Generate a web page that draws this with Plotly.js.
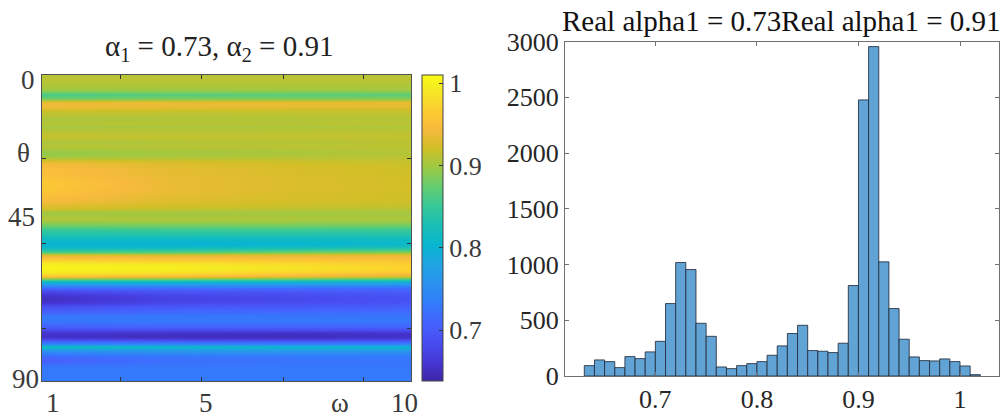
<!DOCTYPE html>
<html>
<head>
<meta charset="utf-8">
<script src="https://cdn.plot.ly/plotly-3.0.1.min.js"></script>
</head>
<body style="margin:0">
<div id="chart"></div>
<script>
// Incidence angle theta (deg), one row per degree
const theta = [
  0, 1, 2, 3, 4, 5, 6, 7, 8, 9,
  10, 11, 12, 13, 14, 15, 16, 17, 18, 19,
  20, 21, 22, 23, 24, 25, 26, 27, 28, 29,
  30, 31, 32, 33, 34, 35, 36, 37, 38, 39,
  40, 41, 42, 43, 44, 45, 46, 47, 48, 49,
  50, 51, 52, 53, 54, 55, 56, 57, 58, 59,
  60, 61, 62, 63, 64, 65, 66, 67, 68, 69,
  70, 71, 72, 73, 74, 75, 76, 77, 78, 79,
  80, 81, 82, 83, 84, 85, 86, 87, 88, 89,
  90
];

// Frequency columns omega
const omega = [1, 4, 7, 10];

// Estimated alpha along theta, one array per omega column
const alpha_w1 = [
  0.910, 0.912, 0.908, 0.906, 0.900, 0.880, 0.858, 0.885, 0.935, 0.942,
  0.928, 0.915, 0.910, 0.903, 0.910, 0.902, 0.906, 0.912, 0.916, 0.909,
  0.904, 0.910, 0.899, 0.893, 0.900, 0.922, 0.940, 0.947, 0.952, 0.951,
  0.956, 0.958, 0.961, 0.960, 0.958, 0.955, 0.950, 0.944, 0.935, 0.926,
  0.906, 0.899, 0.908, 0.900, 0.880, 0.862, 0.842, 0.832, 0.818, 0.806,
  0.800, 0.818, 0.860, 0.930, 0.962, 0.985, 1.000, 1.002, 0.995, 0.960,
  0.880, 0.800, 0.740, 0.700, 0.668, 0.655, 0.650, 0.660, 0.685, 0.700,
  0.712, 0.728, 0.730, 0.720, 0.702, 0.680, 0.656, 0.655, 0.690, 0.750,
  0.820, 0.762, 0.730, 0.712, 0.705, 0.718, 0.728, 0.730, 0.730, 0.731,
  0.732
];
const alpha_w4 = [
  0.910, 0.911, 0.909, 0.905, 0.900, 0.884, 0.866, 0.890, 0.934, 0.938,
  0.924, 0.914, 0.910, 0.905, 0.911, 0.904, 0.907, 0.912, 0.915, 0.910,
  0.906, 0.911, 0.903, 0.900, 0.906, 0.918, 0.928, 0.932, 0.935, 0.934,
  0.936, 0.937, 0.938, 0.937, 0.936, 0.934, 0.932, 0.930, 0.925, 0.918,
  0.905, 0.900, 0.906, 0.900, 0.882, 0.864, 0.845, 0.832, 0.816, 0.802,
  0.800, 0.822, 0.866, 0.928, 0.958, 0.980, 0.996, 0.998, 0.988, 0.952,
  0.878, 0.800, 0.745, 0.708, 0.685, 0.675, 0.673, 0.680, 0.695, 0.708,
  0.718, 0.728, 0.730, 0.722, 0.705, 0.682, 0.655, 0.650, 0.685, 0.748,
  0.812, 0.768, 0.740, 0.725, 0.720, 0.724, 0.729, 0.730, 0.730, 0.731,
  0.732
];
const alpha_w7 = [
  0.910, 0.911, 0.909, 0.906, 0.900, 0.884, 0.868, 0.892, 0.934, 0.936,
  0.922, 0.914, 0.911, 0.906, 0.911, 0.905, 0.908, 0.912, 0.915, 0.911,
  0.908, 0.912, 0.906, 0.904, 0.909, 0.916, 0.922, 0.925, 0.926, 0.926,
  0.927, 0.928, 0.928, 0.928, 0.927, 0.926, 0.925, 0.924, 0.920, 0.914,
  0.904, 0.900, 0.905, 0.899, 0.882, 0.864, 0.846, 0.833, 0.817, 0.806,
  0.806, 0.830, 0.878, 0.932, 0.955, 0.972, 0.985, 0.986, 0.975, 0.940,
  0.870, 0.795, 0.742, 0.708, 0.690, 0.682, 0.680, 0.686, 0.698, 0.710,
  0.719, 0.727, 0.729, 0.722, 0.706, 0.682, 0.652, 0.648, 0.683, 0.745,
  0.806, 0.770, 0.742, 0.728, 0.724, 0.726, 0.729, 0.730, 0.730, 0.731,
  0.732
];
const alpha_w10 = [
  0.910, 0.911, 0.909, 0.906, 0.901, 0.885, 0.870, 0.893, 0.933, 0.935,
  0.921, 0.914, 0.912, 0.908, 0.912, 0.907, 0.909, 0.913, 0.915, 0.912,
  0.910, 0.913, 0.909, 0.908, 0.911, 0.915, 0.918, 0.920, 0.921, 0.921,
  0.922, 0.922, 0.923, 0.922, 0.922, 0.921, 0.921, 0.920, 0.917, 0.912,
  0.904, 0.900, 0.904, 0.898, 0.880, 0.862, 0.846, 0.834, 0.819, 0.810,
  0.812, 0.838, 0.888, 0.935, 0.952, 0.962, 0.970, 0.972, 0.962, 0.925,
  0.860, 0.790, 0.738, 0.710, 0.698, 0.692, 0.690, 0.694, 0.702, 0.712,
  0.720, 0.726, 0.728, 0.722, 0.707, 0.684, 0.658, 0.655, 0.686, 0.745,
  0.802, 0.770, 0.742, 0.730, 0.726, 0.727, 0.729, 0.730, 0.730, 0.731,
  0.732
];

// Histogram of estimated alpha: bin centres (width 0.01) and counts
const binCenters = [
  0.635, 0.645, 0.655, 0.665, 0.675, 0.685, 0.695, 0.705, 0.715, 0.725,
  0.735, 0.745, 0.755, 0.765, 0.775, 0.785, 0.795, 0.805, 0.815, 0.825,
  0.835, 0.845, 0.855, 0.865, 0.875, 0.885, 0.895, 0.905, 0.915, 0.925,
  0.935, 0.945, 0.955, 0.965, 0.975, 0.985, 0.995, 1.005, 1.015
];
const binCounts = [
  93, 144, 129, 75, 174, 156, 216, 311, 650, 1018,
  955, 473, 356, 81, 66, 93, 111, 129, 186, 270,
  381, 455, 228, 222, 210, 294, 812, 2477, 2955, 1024,
  605, 330, 171, 138, 135, 153, 129, 90, 12
];

// Tick labels
const colorbarTicks = [0.7, 0.8, 0.9, 1];
const colorbarTickText = ['0.7', '0.8', '0.9', '1'];
const histXTicks = [0.7, 0.8, 0.9, 1];
const histYTicks = [0, 500, 1000, 1500, 2000, 2500, 3000];
const thetaLabels = ['0', 'θ', '45', '90'];
const omegaLabels = ['1', '5', 'ω', '10'];

// MATLAB parula colour map
const parula = [
  [0.000, 'rgb(62,38,168)'],
  [0.063, 'rgb(69,55,213)'],
  [0.127, 'rgb(72,77,240)'],
  [0.190, 'rgb(69,99,253)'],
  [0.254, 'rgb(50,124,252)'],
  [0.317, 'rgb(43,145,239)'],
  [0.381, 'rgb(32,165,227)'],
  [0.444, 'rgb(8,181,208)'],
  [0.508, 'rgb(25,191,182)'],
  [0.571, 'rgb(55,200,151)'],
  [0.635, 'rgb(100,205,111)'],
  [0.698, 'rgb(157,201,67)'],
  [0.762, 'rgb(209,191,39)'],
  [0.825, 'rgb(248,186,61)'],
  [0.889, 'rgb(252,207,48)'],
  [0.952, 'rgb(245,233,36)'],
  [1.000, 'rgb(249,251,21)']
];

const z = theta.map((t, i) => [alpha_w1[i], alpha_w4[i], alpha_w7[i], alpha_w10[i]]);

const SERIF = 'Liberation Serif';
const W = 1005, H = 417;
const px = v => v / W;
const py = v => 1 - v / H;

function serifFont(size, color) {
  return { family: SERIF, size: size, color: color };
}

const heat = {
  type: 'heatmap',
  x: omega,
  y: theta,
  z: z,
  zsmooth: 'best',
  colorscale: parula,
  zmin: 0.638,
  zmax: 1.01,
  xaxis: 'x',
  yaxis: 'y',
  hoverinfo: 'skip',
  colorbar: {
    x: px(421.5), xanchor: 'left', xpad: 0,
    y: py(381), yanchor: 'bottom', ypad: 0,
    len: 306 / H, lenmode: 'fraction',
    thickness: 21, thicknessmode: 'pixels',
    outlinewidth: 1, outlinecolor: '#444',
    ticks: 'inside', ticklen: 4, tickcolor: '#333',
    tickvals: colorbarTicks, ticktext: colorbarTickText,
    tickfont: serifFont(26, '#3a3a3a')
  }
};

const hist = {
  type: 'bar',
  x: binCenters,
  y: binCounts,
  width: 0.01,
  xaxis: 'x2',
  yaxis: 'y2',
  marker: {
    color: 'rgb(98,163,214)',
    line: { color: 'rgba(35,45,60,0.85)', width: 1 }
  },
  hoverinfo: 'skip'
};

const axisFrame = {
  showline: true, mirror: 'ticks', ticks: 'inside', ticklen: 4,
  showgrid: false, zeroline: false, fixedrange: true
};

const annotations = [
  { text: 'α<sub>1</sub> = 0.73, α<sub>2</sub> = 0.91', xref: 'paper', yref: 'paper',
    x: px(219), y: py(48), xanchor: 'center', yanchor: 'middle', showarrow: false,
    font: serifFont(29, '#222') },
  { text: 'Real alpha1 = 0.73Real alpha1 = 0.91', xref: 'paper', yref: 'paper',
    x: px(781), y: py(21), xanchor: 'center', yanchor: 'middle', showarrow: false,
    font: serifFont(29, '#111') }
];

// theta labels on the left edge of the map
const thetaLabelY = [1.5, 23, 41.8, 89.4];
const thetaLabelX = [27.5, 23.5, 21, 25];
thetaLabels.forEach((t, i) => annotations.push({
  text: t, xref: 'paper', yref: 'y', x: px(thetaLabelX[i]), y: thetaLabelY[i],
  xanchor: 'center', yanchor: 'middle', showarrow: false,
  font: serifFont(27, '#3a3a3a')
}));
// omega labels under the map
const omegaLabelX = [1.26, 5.0, 8.27, 9.83];
omegaLabels.forEach((t, i) => annotations.push({
  text: t, xref: 'x', yref: 'paper', x: omegaLabelX[i], y: py(403),
  xanchor: 'center', yanchor: 'middle', showarrow: false,
  font: serifFont(27, '#3a3a3a')
}));

const layout = {
  width: W, height: H,
  margin: { l: 0, r: 0, t: 0, b: 0 },
  paper_bgcolor: '#fff',
  plot_bgcolor: '#fff',
  showlegend: false,
  xaxis: Object.assign({}, axisFrame, {
    domain: [px(42), px(411)], anchor: 'y',
    range: [1, 10], tickvals: [2.92, 4.9, 6.88, 8.85], showticklabels: false,
    linecolor: '#505050', tickcolor: '#333', linewidth: 1
  }),
  yaxis: Object.assign({}, axisFrame, {
    domain: [py(381), py(75)], anchor: 'x',
    range: [90, 0], tickvals: [24.5, 49.5, 74.5], showticklabels: false,
    linecolor: '#505050', tickcolor: '#333', linewidth: 1
  }),
  xaxis2: Object.assign({}, axisFrame, {
    domain: [px(565), px(999)], anchor: 'y2',
    range: [0.611, 1.0384], tickvals: histXTicks,
    linecolor: '#707070', tickcolor: '#707070', linewidth: 1,
    tickfont: serifFont(26, '#262626')
  }),
  yaxis2: Object.assign({}, axisFrame, {
    domain: [py(376), py(41.6)], anchor: 'x2',
    range: [0, 3000], tickvals: histYTicks,
    linecolor: '#707070', tickcolor: '#707070', linewidth: 1,
    tickfont: serifFont(26, '#262626')
  }),
  annotations: annotations
};

Plotly.newPlot('chart', [heat, hist], layout, { displayModeBar: false });
</script>
</body>
</html>
